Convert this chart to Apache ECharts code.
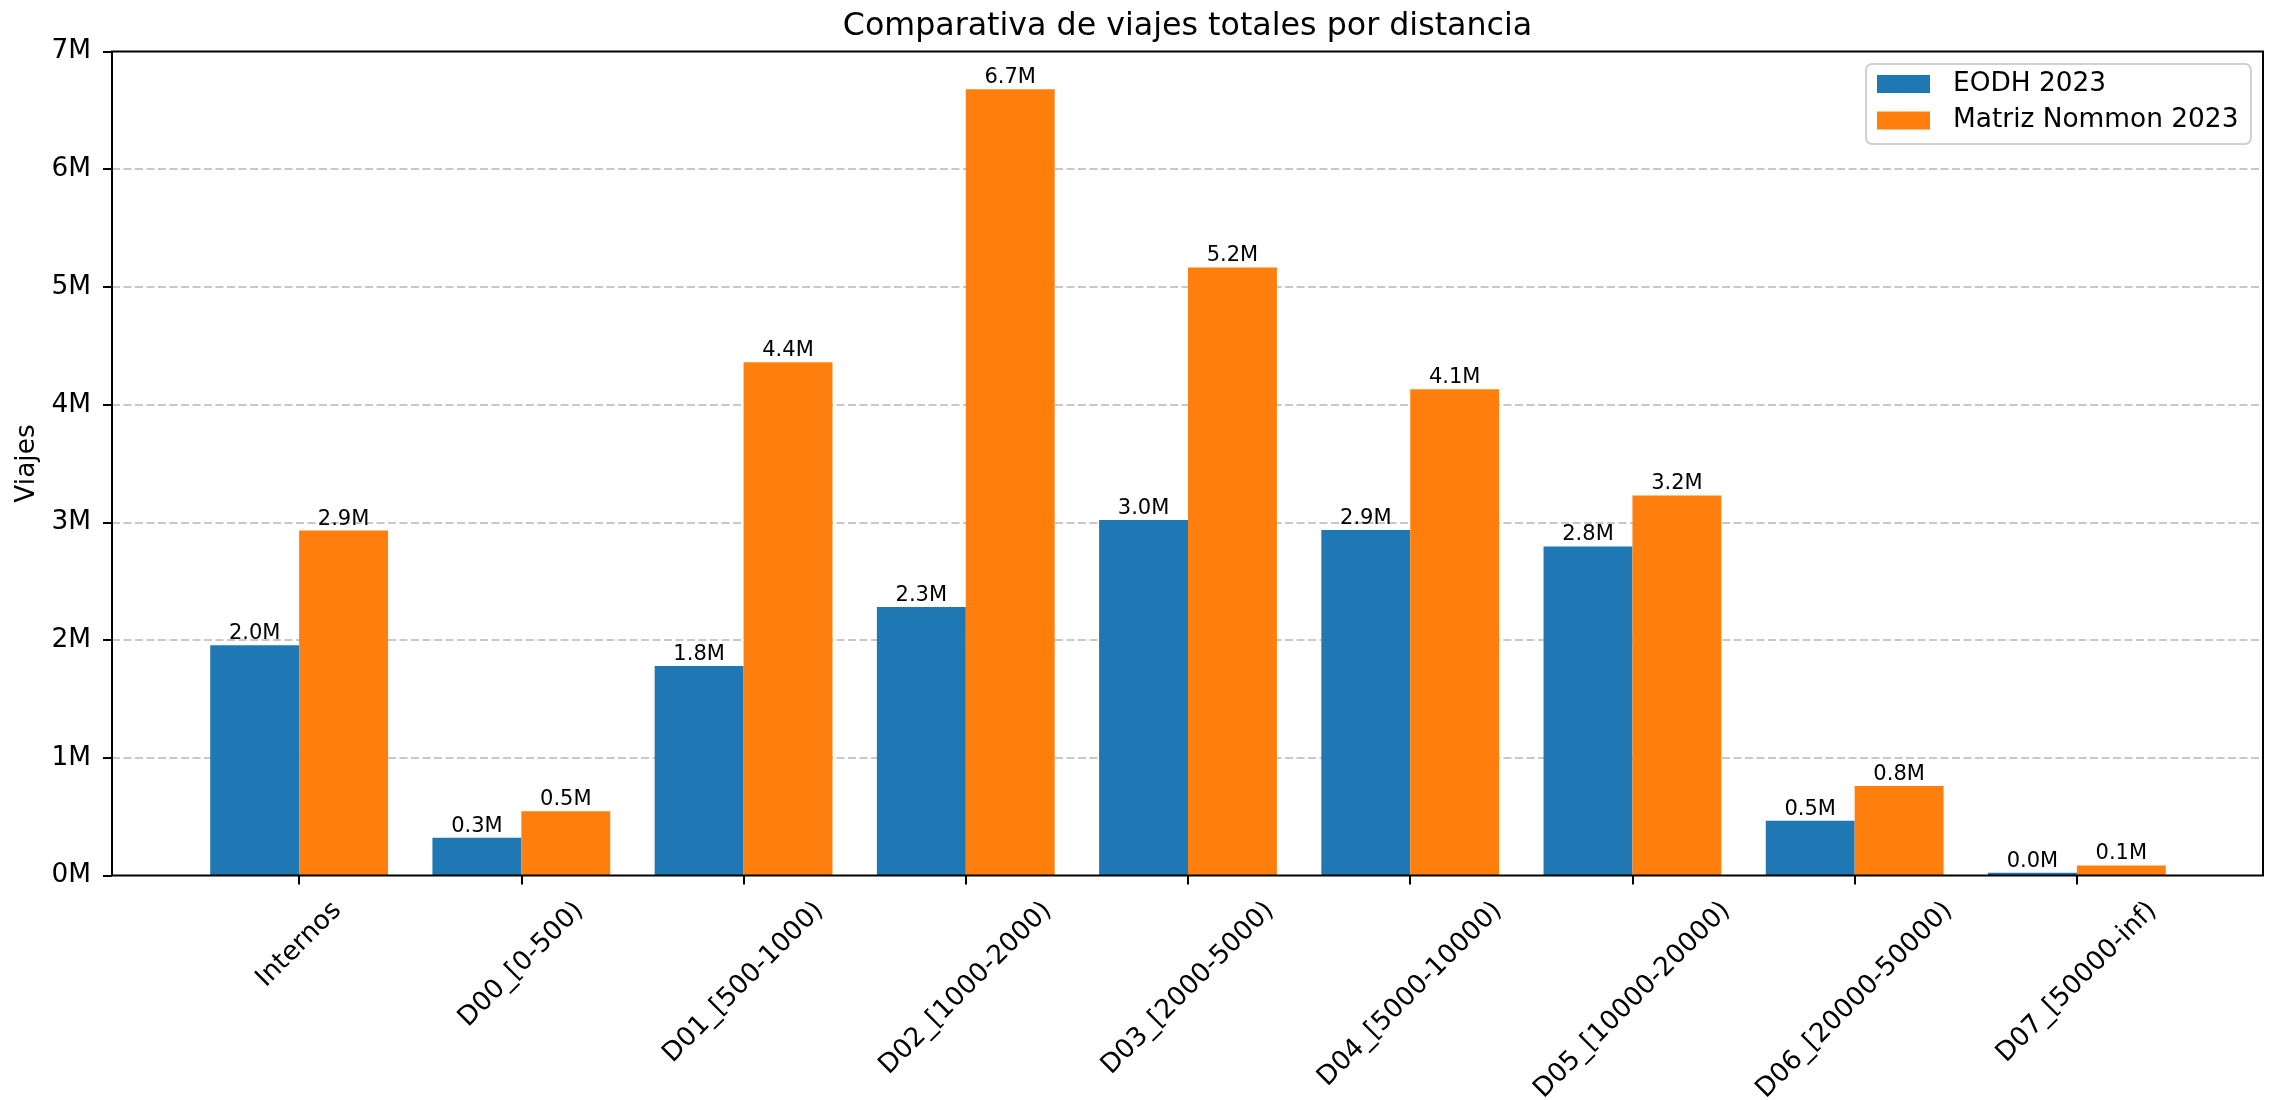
<!DOCTYPE html>
<html><head><meta charset="utf-8">
<script src="https://cdn.jsdelivr.net/npm/echarts@6/dist/echarts.min.js"></script>
<style>html,body{margin:0;padding:0;background:#fff}#c{width:2272px;height:1100px}</style>
</head><body><div id="c"></div>
<script>
const categories = ['Internos','D00_[0-500)','D01_[500-1000)','D02_[1000-2000)','D03_[2000-5000)','D04_[5000-10000)','D05_[10000-20000)','D06_[20000-50000)','D07_[50000-inf)'];
const seriesNames = ['EODH 2023','Matriz Nommon 2023'];
const eodh = [1955000, 320000, 1780000, 2280000, 3020000, 2935000, 2795000, 465000, 24000];
const nommon = [2930000, 545000, 4360000, 6680000, 5165000, 4130000, 3228000, 760000, 85000];
const yMin = 0, yMax = 7000000, yStep = 1000000;

const FONT = 'DejaVu Sans';
const TICK_FS = 26.4;
const ctx = document.createElement('canvas').getContext('2d');
ctx.font = TICK_FS + 'px "' + FONT + '"';
const rich = {};
categories.forEach((c, i) => {
  const w = ctx.measureText(c).width;
  rich['c' + i] = { fontFamily: FONT, fontSize: TICK_FS, color: '#000', padding: [w / 2, w / 2, 0, 0] };
});

const chart = echarts.init(document.getElementById('c'), null, { renderer: 'canvas' });
const fmtM = v => (v / 1e6).toFixed(1) + 'M';
chart.setOption({
  animation: false,
  backgroundColor: '#fff',
  textStyle: { fontFamily: FONT },
  title: {
    text: 'Comparativa de viajes totales por distancia',
    left: 1187.5, top: 11, padding: 0, textAlign: 'center',
    textStyle: { fontFamily: FONT, fontSize: 31.7, fontWeight: 'normal', color: '#000' }
  },
  legend: {
    orient: 'vertical', left: 1866, top: 64,
    padding: [7, 12.5, 10.5, 11],
    itemWidth: 53, itemHeight: 18, itemGap: 10.5,
    icon: 'rect',
    borderColor: '#d0d0d0', borderWidth: 2, borderRadius: 6, backgroundColor: 'rgba(255,255,255,0.8)',
    formatter: n => '{t|' + n + '}',
    textStyle: { fontFamily: FONT, fontSize: TICK_FS, color: '#000',
      rich: { t: { fontFamily: FONT, fontSize: TICK_FS, color: '#000', lineHeight: 30, padding: [0, 0, 0, 18] } } },
    data: seriesNames
  },
  grid: [
    { left: 112, right: 9, top: 51.5, bottom: 224.5, outerBoundsMode: 'none', containLabel: false,
      show: true, borderColor: '#000', borderWidth: 2, backgroundColor: 'transparent', z: 3 },
    { left: 188, right: 84, top: 51.5, bottom: 224.5, outerBoundsMode: 'none', containLabel: false }
  ],
  xAxis: [
    { gridIndex: 0, type: 'value', min: 0, max: 1, show: false },
    { gridIndex: 1, type: 'category', data: categories,
      axisLine: { show: false },
      axisTick: { show: true, alignWithLabel: true, length: 9, lineStyle: { color: '#000', width: 2 } },
      axisLabel: { interval: 0, rotate: 45, margin: 31, align: 'center', verticalAlign: 'middle',
        formatter: (v, i) => '{c' + i + '|' + v + '}', rich: rich }
    }
  ],
  yAxis: [
    { gridIndex: 0, type: 'value', min: yMin, max: yMax, interval: yStep,
      name: 'Viajes', nameLocation: 'middle', nameGap: 72,
      nameTextStyle: { fontFamily: FONT, fontSize: TICK_FS, color: '#000' },
      axisLine: { show: false },
      axisTick: { show: true, length: 9, lineStyle: { color: '#000', width: 2 } },
      axisLabel: { margin: 21, fontFamily: FONT, fontSize: TICK_FS, color: '#000', formatter: v => (v / 1e6) + 'M' },
      splitLine: { show: true, showMinLine: false, showMaxLine: false, lineStyle: { color: '#c8c8c8', width: 2, type: [8, 3.5] } }
    },
    { gridIndex: 1, type: 'value', min: yMin, max: yMax, interval: yStep, show: false, splitLine: { show: false } }
  ],
  series: [
    { name: seriesNames[0], type: 'bar', xAxisIndex: 1, yAxisIndex: 1, data: eodh,
      barWidth: 88.9, barGap: '0%', itemStyle: { color: '#1f77b4' },
      label: { show: true, position: 'top', distance: 1, fontFamily: FONT, fontSize: 21, color: '#000', formatter: p => fmtM(p.value) } },
    { name: seriesNames[1], type: 'bar', xAxisIndex: 1, yAxisIndex: 1, data: nommon,
      barWidth: 88.9, barGap: '0%', itemStyle: { color: '#ff7f0e' },
      label: { show: true, position: 'top', distance: 1, fontFamily: FONT, fontSize: 21, color: '#000', formatter: p => fmtM(p.value) } }
  ]
});
</script></body></html>
